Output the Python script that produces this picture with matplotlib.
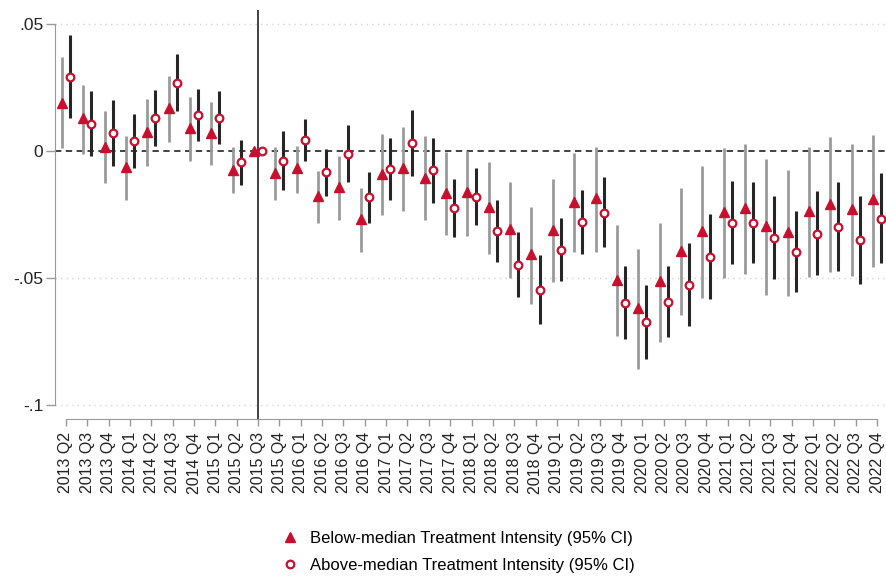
import matplotlib
matplotlib.use("Agg")
import matplotlib.pyplot as plt
from matplotlib.lines import Line2D
import numpy as np

plt.rcParams['font.family'] = ['Liberation Sans', 'DejaVu Sans']

quarters = ["2013 Q2", "2013 Q3", "2013 Q4",
            "2014 Q1", "2014 Q2", "2014 Q3", "2014 Q4",
            "2015 Q1", "2015 Q2", "2015 Q3", "2015 Q4",
            "2016 Q1", "2016 Q2", "2016 Q3", "2016 Q4",
            "2017 Q1", "2017 Q2", "2017 Q3", "2017 Q4",
            "2018 Q1", "2018 Q2", "2018 Q3", "2018 Q4",
            "2019 Q1", "2019 Q2", "2019 Q3", "2019 Q4",
            "2020 Q1", "2020 Q2", "2020 Q3", "2020 Q4",
            "2021 Q1", "2021 Q2", "2021 Q3", "2021 Q4",
            "2022 Q1", "2022 Q2", "2022 Q3", "2022 Q4"]
ref_quarter = "2015 Q3"

# below-median treatment intensity: point estimate and 95% CI
below = [0.019, 0.013, 0.0016, -0.0063, 0.0075, 0.017, 0.009, 0.0071, -0.0075, 0.0,
         -0.0085, -0.0068, -0.0178, -0.0143, -0.0268, -0.0089, -0.0067, -0.0105, -0.0167,
         -0.0161, -0.022, -0.0307, -0.0406, -0.0311, -0.02, -0.0186, -0.0507, -0.0619,
         -0.0513, -0.0392, -0.0316, -0.024, -0.0223, -0.0297, -0.032, -0.0235, -0.0209,
         -0.023, -0.019]
below_lo = [0.001, -0.001, -0.0126, -0.0193, -0.0059, 0.0037, -0.004, -0.0055, -0.0165, np.nan,
            -0.0194, -0.0164, -0.0282, -0.027, -0.0396, -0.0251, -0.0236, -0.027, -0.0332,
            -0.0333, -0.0404, -0.0499, -0.0601, -0.0517, -0.0399, -0.0399, -0.0727, -0.086,
            -0.0751, -0.0646, -0.0577, -0.05, -0.0483, -0.0567, -0.057, -0.0495, -0.0475,
            -0.0491, -0.0457]
below_hi = [0.037, 0.026, 0.0157, 0.006, 0.0205, 0.0295, 0.0213, 0.0193, 0.0016, np.nan,
            0.0017, 0.002, -0.008, -0.0021, -0.0144, 0.0068, 0.0094, 0.0058, -0.0004,
            0.0001, -0.0045, -0.0122, -0.022, -0.0111, -0.0008, 0.0017, -0.0293, -0.0386,
            -0.0285, -0.0146, -0.006, 0.0013, 0.0026, -0.0033, -0.0075, 0.0017, 0.0056,
            0.0026, 0.0064]

# above-median treatment intensity: point estimate and 95% CI
above = [0.029, 0.0106, 0.0071, 0.0039, 0.013, 0.0268, 0.0142, 0.013, -0.0043, 0.0,
         -0.0038, 0.0043, -0.0084, -0.0011, -0.0182, -0.0071, 0.003, -0.0076, -0.0224,
         -0.018, -0.0316, -0.0448, -0.0547, -0.039, -0.0281, -0.0243, -0.0598, -0.0674,
         -0.0593, -0.0528, -0.0416, -0.0282, -0.0283, -0.0341, -0.0398, -0.0326, -0.0298,
         -0.0352, -0.0266]
above_lo = [0.013, -0.002, -0.0059, -0.0067, 0.002, 0.0157, 0.0039, 0.0028, -0.0134, np.nan,
            -0.0152, -0.0039, -0.0176, -0.0122, -0.0282, -0.0192, -0.01, -0.0203, -0.0339,
            -0.0293, -0.0437, -0.0576, -0.0682, -0.051, -0.0404, -0.0378, -0.0741, -0.082,
            -0.0734, -0.0689, -0.0581, -0.0444, -0.0442, -0.0504, -0.0555, -0.0489, -0.0471,
            -0.0525, -0.0442]
above_hi = [0.0457, 0.0236, 0.0201, 0.0146, 0.024, 0.0382, 0.0244, 0.0236, 0.0043, np.nan,
            0.0079, 0.0127, 0.0009, 0.0102, -0.0081, 0.0052, 0.0163, 0.0051, -0.0109,
            -0.0067, -0.0193, -0.0319, -0.041, -0.0265, -0.0155, -0.0102, -0.0453, -0.0528,
            -0.0452, -0.0363, -0.0248, -0.0118, -0.0121, -0.0176, -0.0236, -0.0159, -0.0123,
            -0.0177, -0.0085]

ytick_vals = [-0.1, -0.05, 0, 0.05]
ytick_labels = ["-.1", "-.05", "0", ".05"]

red = "#c8102e"
x = np.arange(len(quarters))
off = 0.19

fig = plt.figure(figsize=(8.86, 5.76), dpi=100)
ax = fig.add_axes([55 / 886, 1 - 419 / 576, 1 - 55 / 886, 409 / 576])

# reference lines
for yv in ytick_vals:
    if yv != 0:
        ax.axhline(yv, color="#d4d4d4", lw=1, ls=(0, (1, 3)), zorder=0)
ax.axhline(0, color="#333333", lw=1.3, ls=(0, (3.5, 2.5)), zorder=1)
ax.axvline(quarters.index(ref_quarter), color="#333333", lw=1.3, zorder=1)

# confidence intervals
bl, bh = np.array(below_lo), np.array(below_hi)
al, ah = np.array(above_lo), np.array(above_hi)
mb = ~np.isnan(bl)
ma = ~np.isnan(al)
ax.vlines(x[mb] - off, bl[mb], bh[mb], color="#9a9a9a", lw=2, zorder=2)
ax.vlines(x[ma] + off, al[ma], ah[ma], color="#262626", lw=2.2, zorder=2)

# point estimates
ax.plot(x - off, below, ls="none", marker="^", ms=7.5, color=red, mec=red, zorder=3)
ax.plot(x + off, above, ls="none", marker="o", ms=5.5, mfc="white", mec=red, mew=1.6,
        zorder=3)

ax.set_xlim(-0.515, 38.42)
ax.set_ylim(-0.1055, 0.0555)

ax.set_xticks(x)
ax.set_xticklabels(quarters, rotation=90, fontsize=11.5)
ax.set_yticks(ytick_vals)
ax.set_yticklabels(ytick_labels, fontsize=12.5)
ax.tick_params(axis="x", length=5, width=1, color="#9a9a9a", pad=4.5, labelcolor="#222222")
ax.tick_params(axis="y", length=6.5, width=1, color="#9a9a9a", pad=2, labelcolor="#222222")

for s in ["top", "right"]:
    ax.spines[s].set_visible(False)
ax.spines["left"].set_bounds(-0.1, 0.05)
ax.spines["left"].set_color("#9a9a9a")
ax.spines["bottom"].set_bounds(0, 38)
ax.spines["bottom"].set_color("#9a9a9a")
ax.set_facecolor("white")

handles = [
    Line2D([], [], ls="none", marker="^", ms=7.5, color=red),
    Line2D([], [], ls="none", marker="o", ms=5.5, mfc="white", mec=red, mew=1.6),
]
fig.legend(handles,
           ["Below-median Treatment Intensity (95% CI)",
            "Above-median Treatment Intensity (95% CI)"],
           loc="center left", bbox_to_anchor=(280 / 886, 1 - 552 / 576),
           frameon=False, fontsize=12, handlelength=1.2, handletextpad=0.6,
           labelspacing=0.7, borderaxespad=0, borderpad=0)

fig.savefig("out.png", dpi=100, facecolor="white")
